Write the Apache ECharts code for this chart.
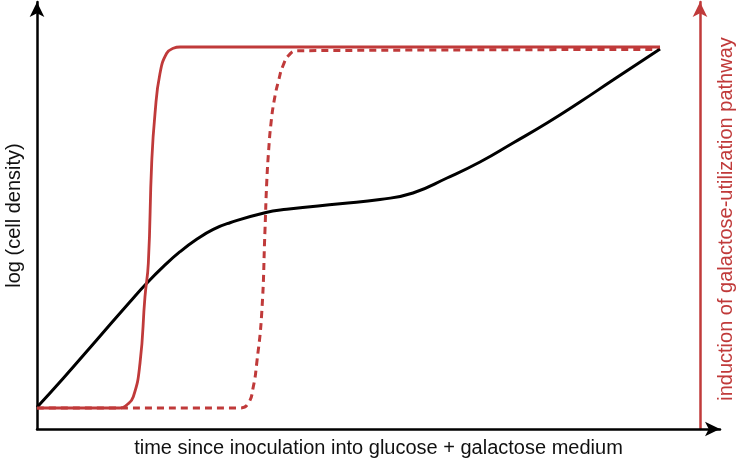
<!DOCTYPE html>
<html>
<head>
<meta charset="utf-8">
<script src="https://cdn.jsdelivr.net/npm/echarts@6/dist/echarts.min.js"></script>
<style>html,body{margin:0;padding:0;background:#fff}#c{width:736px;height:461px}</style>
</head>
<body>
<div id="c"></div>
<script>
// Conceptual data (x: time, 0-100; y: 0-100)
const cellX = [0, 3.85, 8.74, 13.62, 16.06, 18.49, 20.94, 23.38, 25.81, 28.26, 33.38, 36.56, 44.36, 50.22, 55.05, 60.03, 64.86, 69.69, 74.67, 79.50, 84.33, 91.22];
const cellY = [5.08, 11.87, 20.84, 29.81, 34.12, 38.01, 41.52, 44.43, 46.77, 48.31, 50.66, 51.45, 52.76, 53.75, 55.27, 58.78, 62.53, 66.98, 71.66, 76.58, 81.73, 89.0];

const inducX = [0, 12.15, 13.13, 14.10, 15.08, 15.81, 16.30, 16.79, 17.28, 18.01, 18.99, 19.96, 20.94, 91.22];
const inducY = [4.92, 4.92, 5.62, 7.56, 15.39, 30.98, 38.81, 62.22, 73.94, 83.30, 87.99, 89.16, 89.46, 89.46];

const delayX = [0, 29.72, 30.94, 31.67, 32.17, 32.90, 33.38, 33.63, 33.92, 34.26, 34.74, 35.39, 36.06, 36.90, 38.02, 91.22];
const delayY = [4.92, 4.92, 6.02, 9.91, 15.39, 27.10, 46.60, 57.54, 65.34, 71.59, 77.05, 81.73, 85.25, 87.59, 88.59, 88.88];

const xLabel = 'time since inoculation into glucose + galactose medium';
const yLabel = 'log (cell density)';
const rLabel = 'induction of galactose-utilization pathway';

const RED = '#c03a3a';
const FONT = 'Liberation Sans';
const zip = (a, b) => a.map((v, i) => [v, b[i]]);

const chart = echarts.init(document.getElementById('c'));
chart.setOption({
  animation: false,
  grid: {left: 37, right: 16, top: 2, bottom: 32, containLabel: false, outerBoundsMode: 'none'},
  xAxis: {
    type: 'value', min: 0, max: 100,
    name: xLabel, nameLocation: 'middle', nameGap: 9,
    nameTextStyle: {fontFamily: FONT, fontSize: 20, color: '#111', verticalAlign: 'top'},
    axisLine: {show: true, symbol: ['none', 'arrow'], symbolSize: [11, 15], lineStyle: {color: '#000', width: 2.5}},
    axisTick: {show: false}, axisLabel: {show: false}, splitLine: {show: false}
  },
  yAxis: [{
    type: 'value', min: 0, max: 100,
    name: yLabel, nameLocation: 'middle', nameGap: 13,
    nameTextStyle: {fontFamily: FONT, fontSize: 20, color: '#111'},
    axisLine: {show: true, symbol: ['none', 'arrow'], symbolSize: [11, 15], lineStyle: {color: '#000', width: 2.5}},
    axisTick: {show: false}, axisLabel: {show: false}, splitLine: {show: false}
  }, {
    type: 'value', min: 0, max: 100, position: 'right', offset: -20,
    axisLine: {show: true, symbol: ['none', 'arrow'], symbolSize: [11, 15], lineStyle: {color: RED, width: 2.5}},
    axisTick: {show: false}, axisLabel: {show: false}, splitLine: {show: false}
  }],
  graphic: [{
    type: 'text', x: 726, y: 219, rotation: Math.PI / 2,
    style: {text: rLabel, fontFamily: FONT, fontSize: 20, fill: RED, textAlign: 'center', textVerticalAlign: 'middle'}
  }],
  series: [{
    type: 'line', data: zip(cellX, cellY), smooth: 0.5, showSymbol: false,
    lineStyle: {color: '#000', width: 3}, z: 3
  }, {
    type: 'line', data: zip(delayX, delayY), smooth: 0.5, showSymbol: false,
    lineStyle: {color: RED, width: 3, type: [7, 5]}, z: 2
  }, {
    type: 'line', data: zip(inducX, inducY), smooth: 0.5, showSymbol: false,
    lineStyle: {color: RED, width: 2.8}, z: 4
  }]
});
</script>
</body>
</html>
